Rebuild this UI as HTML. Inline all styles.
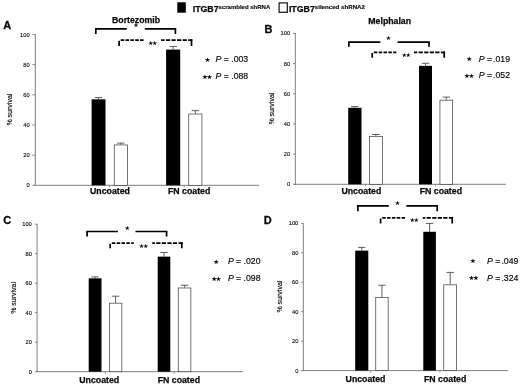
<!DOCTYPE html>
<html lang="en">
<head>
<meta charset="utf-8">
<title>Figure</title>
<style>
html,body{margin:0;padding:0;background:#fff;}
body{width:520px;height:385px;overflow:hidden;}
svg{display:block;font-family:'Liberation Sans',sans-serif;}
</style>
</head>
<body>
<svg width="520" height="385" viewBox="0 0 520 385">
<rect width="520" height="385" fill="#fff"/>
<g style="filter:blur(0.3px)">
<g>
<line x1="35.3" y1="34.1" x2="35.3" y2="185.8" stroke="#707070" stroke-width="0.9"/>
<line x1="34.8" y1="185.3" x2="259.2" y2="185.3" stroke="#707070" stroke-width="0.9"/>
<line x1="32.3" y1="185.30" x2="35.3" y2="185.30" stroke="#707070" stroke-width="0.8"/>
<text x="29.599999999999998" y="187.35" font-size="5.7" text-anchor="end" fill="#0a0a0a" stroke="#0a0a0a" stroke-width="0.12">0</text>
<line x1="32.3" y1="155.14" x2="35.3" y2="155.14" stroke="#707070" stroke-width="0.8"/>
<text x="29.599999999999998" y="157.19" font-size="5.7" text-anchor="end" fill="#0a0a0a" stroke="#0a0a0a" stroke-width="0.12">20</text>
<line x1="32.3" y1="124.98" x2="35.3" y2="124.98" stroke="#707070" stroke-width="0.8"/>
<text x="29.599999999999998" y="127.03" font-size="5.7" text-anchor="end" fill="#0a0a0a" stroke="#0a0a0a" stroke-width="0.12">40</text>
<line x1="32.3" y1="94.82" x2="35.3" y2="94.82" stroke="#707070" stroke-width="0.8"/>
<text x="29.599999999999998" y="96.87" font-size="5.7" text-anchor="end" fill="#0a0a0a" stroke="#0a0a0a" stroke-width="0.12">60</text>
<line x1="32.3" y1="64.66" x2="35.3" y2="64.66" stroke="#707070" stroke-width="0.8"/>
<text x="29.599999999999998" y="66.71" font-size="5.7" text-anchor="end" fill="#0a0a0a" stroke="#0a0a0a" stroke-width="0.12">80</text>
<line x1="32.3" y1="34.50" x2="35.3" y2="34.50" stroke="#707070" stroke-width="0.8"/>
<text x="29.599999999999998" y="36.55" font-size="5.7" text-anchor="end" fill="#0a0a0a" stroke="#0a0a0a" stroke-width="0.12">100</text>
<line x1="109.5" y1="185.3" x2="109.5" y2="187.3" stroke="#707070" stroke-width="0.8"/>
<line x1="184.2" y1="185.3" x2="184.2" y2="187.3" stroke="#707070" stroke-width="0.8"/>
<line x1="98.55" y1="99.34" x2="98.55" y2="97.53" stroke="#444" stroke-width="0.85"/>
<line x1="94.85" y1="97.53" x2="102.25" y2="97.53" stroke="#444" stroke-width="0.85"/>
<rect x="91.60" y="99.34" width="13.90" height="85.96" fill="#000"/>
<line x1="120.80" y1="144.58" x2="120.80" y2="143.08" stroke="#444" stroke-width="0.85"/>
<line x1="117.10" y1="143.08" x2="124.50" y2="143.08" stroke="#444" stroke-width="0.85"/>
<rect x="114.25" y="144.93" width="13.10" height="40.37" fill="#fff" stroke="#3a3a3a" stroke-width="0.7"/>
<line x1="173.15" y1="49.58" x2="173.15" y2="46.41" stroke="#444" stroke-width="0.85"/>
<line x1="169.45" y1="46.41" x2="176.85" y2="46.41" stroke="#444" stroke-width="0.85"/>
<rect x="166.10" y="49.58" width="14.10" height="135.72" fill="#000"/>
<line x1="195.35" y1="113.67" x2="195.35" y2="110.65" stroke="#444" stroke-width="0.85"/>
<line x1="191.65" y1="110.65" x2="199.05" y2="110.65" stroke="#444" stroke-width="0.85"/>
<rect x="188.75" y="114.02" width="13.20" height="71.28" fill="#fff" stroke="#3a3a3a" stroke-width="0.7"/>
<text transform="translate(11.8,109.6) rotate(-90)" font-size="7.0" text-anchor="middle" fill="#0a0a0a" stroke="#0a0a0a" stroke-width="0.15">% survival</text>
<text x="90" y="194.2" font-size="8.75" font-weight="bold" fill="#0a0a0a" stroke="#0a0a0a" stroke-width="0.25">Uncoated</text>
<text x="168" y="194.2" font-size="8.75" font-weight="bold" fill="#0a0a0a" stroke="#0a0a0a" stroke-width="0.25">FN coated</text>
<text x="3.3" y="28.5" font-size="11" font-weight="bold" fill="#0a0a0a" stroke="#0a0a0a" stroke-width="0.3">A</text>
<text x="112" y="22.6" font-size="8.75" font-weight="bold" fill="#0a0a0a" stroke="#0a0a0a" stroke-width="0.25">Bortezomib</text>
<path d="M95.8 34V28.8H126.8M144.8 28.8H175.4V34" fill="none" stroke="#000" stroke-width="1.7"/>
<text x="136.00" y="27.32" font-family="'DejaVu Sans', sans-serif" font-size="5.6" text-anchor="middle" fill="#000" stroke="#000" stroke-width="0.15">★</text>
<path d="M119.1 40.800000000000004V46M191.5 39.35V46" fill="none" stroke="#000" stroke-width="1.7"/>
<path d="M120.70 40.2H124.20M125.55 40.2H129.05M130.40 40.2H133.90M135.25 40.2H138.75M140.10 40.2H143.60" fill="none" stroke="#000" stroke-width="1.7"/>
<path d="M188.15 40.2H192.35M182.60 40.2H186.80M177.05 40.2H181.25M171.50 40.2H175.70M165.95 40.2H170.15M161.10 40.2H164.60" fill="none" stroke="#000" stroke-width="1.7"/>
<text x="150.75" y="44.82" font-family="'DejaVu Sans', sans-serif" font-size="5.6" text-anchor="middle" fill="#000" stroke="#000" stroke-width="0.15">★</text>
<text x="154.85" y="44.82" font-family="'DejaVu Sans', sans-serif" font-size="5.6" text-anchor="middle" fill="#000" stroke="#000" stroke-width="0.15">★</text>
<text x="207.40" y="61.76" font-family="'DejaVu Sans', sans-serif" font-size="6.0" text-anchor="middle" fill="#000" stroke="#000" stroke-width="0.15">★</text>
<text x="215.6" y="62" font-size="8.7" fill="#0a0a0a" stroke="#0a0a0a" stroke-width="0.18"><tspan font-style="italic">P</tspan> = .003</text>
<text x="205.00" y="78.76" font-family="'DejaVu Sans', sans-serif" font-size="6.0" text-anchor="middle" fill="#000" stroke="#000" stroke-width="0.15">★</text>
<text x="209.40" y="78.76" font-family="'DejaVu Sans', sans-serif" font-size="6.0" text-anchor="middle" fill="#000" stroke="#000" stroke-width="0.15">★</text>
<text x="215.6" y="79" font-size="8.7" fill="#0a0a0a" stroke="#0a0a0a" stroke-width="0.18"><tspan font-style="italic">P</tspan> = .088</text>
</g>
<g>
<line x1="295.3" y1="33.0" x2="295.3" y2="184.8" stroke="#707070" stroke-width="0.9"/>
<line x1="294.8" y1="184.3" x2="505.9" y2="184.3" stroke="#707070" stroke-width="0.9"/>
<line x1="293.0" y1="184.30" x2="295.3" y2="184.30" stroke="#707070" stroke-width="0.8"/>
<text x="290.1" y="186.35" font-size="5.7" text-anchor="end" fill="#0a0a0a" stroke="#0a0a0a" stroke-width="0.12">0</text>
<line x1="293.0" y1="154.12" x2="295.3" y2="154.12" stroke="#707070" stroke-width="0.8"/>
<text x="290.1" y="156.17" font-size="5.7" text-anchor="end" fill="#0a0a0a" stroke="#0a0a0a" stroke-width="0.12">20</text>
<line x1="293.0" y1="123.94" x2="295.3" y2="123.94" stroke="#707070" stroke-width="0.8"/>
<text x="290.1" y="125.99" font-size="5.7" text-anchor="end" fill="#0a0a0a" stroke="#0a0a0a" stroke-width="0.12">40</text>
<line x1="293.0" y1="93.76" x2="295.3" y2="93.76" stroke="#707070" stroke-width="0.8"/>
<text x="290.1" y="95.81" font-size="5.7" text-anchor="end" fill="#0a0a0a" stroke="#0a0a0a" stroke-width="0.12">60</text>
<line x1="293.0" y1="63.58" x2="295.3" y2="63.58" stroke="#707070" stroke-width="0.8"/>
<text x="290.1" y="65.63" font-size="5.7" text-anchor="end" fill="#0a0a0a" stroke="#0a0a0a" stroke-width="0.12">80</text>
<line x1="293.0" y1="33.40" x2="295.3" y2="33.40" stroke="#707070" stroke-width="0.8"/>
<text x="290.1" y="35.45" font-size="5.7" text-anchor="end" fill="#0a0a0a" stroke="#0a0a0a" stroke-width="0.12">100</text>
<line x1="365.3" y1="184.3" x2="365.3" y2="186.3" stroke="#707070" stroke-width="0.8"/>
<line x1="435.3" y1="184.3" x2="435.3" y2="186.3" stroke="#707070" stroke-width="0.8"/>
<line x1="354.85" y1="107.79" x2="354.85" y2="106.59" stroke="#444" stroke-width="0.85"/>
<line x1="351.15" y1="106.59" x2="358.55" y2="106.59" stroke="#444" stroke-width="0.85"/>
<rect x="348.20" y="107.79" width="13.30" height="76.51" fill="#000"/>
<line x1="375.85" y1="136.01" x2="375.85" y2="134.50" stroke="#444" stroke-width="0.85"/>
<line x1="372.15" y1="134.50" x2="379.55" y2="134.50" stroke="#444" stroke-width="0.85"/>
<rect x="369.35" y="136.36" width="13.00" height="47.94" fill="#fff" stroke="#3a3a3a" stroke-width="0.7"/>
<line x1="425.50" y1="65.84" x2="425.50" y2="63.28" stroke="#444" stroke-width="0.85"/>
<line x1="421.80" y1="63.28" x2="429.20" y2="63.28" stroke="#444" stroke-width="0.85"/>
<rect x="419.00" y="65.84" width="13.00" height="118.46" fill="#000"/>
<line x1="446.30" y1="99.80" x2="446.30" y2="97.08" stroke="#444" stroke-width="0.85"/>
<line x1="442.60" y1="97.08" x2="450.00" y2="97.08" stroke="#444" stroke-width="0.85"/>
<rect x="439.95" y="100.15" width="12.70" height="84.15" fill="#fff" stroke="#3a3a3a" stroke-width="0.7"/>
<text transform="translate(274,108.6) rotate(-90)" font-size="7.0" text-anchor="middle" fill="#0a0a0a" stroke="#0a0a0a" stroke-width="0.15">% survival</text>
<text x="341.4" y="194.4" font-size="8.75" font-weight="bold" fill="#0a0a0a" stroke="#0a0a0a" stroke-width="0.25">Uncoated</text>
<text x="419.7" y="194.4" font-size="8.75" font-weight="bold" fill="#0a0a0a" stroke="#0a0a0a" stroke-width="0.25">FN coated</text>
<text x="264.5" y="33.3" font-size="11" font-weight="bold" fill="#0a0a0a" stroke="#0a0a0a" stroke-width="0.3">B</text>
<text x="368.3" y="23.5" font-size="8.75" font-weight="bold" fill="#0a0a0a" stroke="#0a0a0a" stroke-width="0.25">Melphalan</text>
<path d="M348.9 46.8V42.2H380.4M397.6 42.2H429V46.8" fill="none" stroke="#000" stroke-width="1.7"/>
<text x="388.50" y="39.62" font-family="'DejaVu Sans', sans-serif" font-size="5.6" text-anchor="middle" fill="#000" stroke="#000" stroke-width="0.15">★</text>
<path d="M372.2 53.0V57.8M444.2 51.55V57.8" fill="none" stroke="#000" stroke-width="1.7"/>
<path d="M373.80 52.4H377.30M378.65 52.4H382.15M383.50 52.4H387.00M388.35 52.4H391.85M393.20 52.4H396.30" fill="none" stroke="#000" stroke-width="1.7"/>
<path d="M440.85 52.4H445.05M435.30 52.4H439.50M429.75 52.4H433.95M424.20 52.4H428.40M418.65 52.4H422.85M414.00 52.4H417.30" fill="none" stroke="#000" stroke-width="1.7"/>
<text x="404.25" y="57.02" font-family="'DejaVu Sans', sans-serif" font-size="5.6" text-anchor="middle" fill="#000" stroke="#000" stroke-width="0.15">★</text>
<text x="408.35" y="57.02" font-family="'DejaVu Sans', sans-serif" font-size="5.6" text-anchor="middle" fill="#000" stroke="#000" stroke-width="0.15">★</text>
<text x="469.20" y="60.96" font-family="'DejaVu Sans', sans-serif" font-size="6.0" text-anchor="middle" fill="#000" stroke="#000" stroke-width="0.15">★</text>
<text x="478.7" y="61.6" font-size="8.7" fill="#0a0a0a" stroke="#0a0a0a" stroke-width="0.18"><tspan font-style="italic">P</tspan> =<tspan dx="1.1">.</tspan>019</text>
<text x="467.00" y="77.56" font-family="'DejaVu Sans', sans-serif" font-size="6.0" text-anchor="middle" fill="#000" stroke="#000" stroke-width="0.15">★</text>
<text x="471.40" y="77.56" font-family="'DejaVu Sans', sans-serif" font-size="6.0" text-anchor="middle" fill="#000" stroke="#000" stroke-width="0.15">★</text>
<text x="478.7" y="78.0" font-size="8.7" fill="#0a0a0a" stroke="#0a0a0a" stroke-width="0.18"><tspan font-style="italic">P</tspan> =<tspan dx="1.1">.</tspan>052</text>
</g>
<g>
<line x1="37.1" y1="223.79999999999998" x2="37.1" y2="372.2" stroke="#707070" stroke-width="0.9"/>
<line x1="36.6" y1="371.7" x2="242.8" y2="371.7" stroke="#707070" stroke-width="0.9"/>
<line x1="34.800000000000004" y1="371.70" x2="37.1" y2="371.70" stroke="#707070" stroke-width="0.8"/>
<text x="31.8" y="373.75" font-size="5.7" text-anchor="end" fill="#0a0a0a" stroke="#0a0a0a" stroke-width="0.12">0</text>
<line x1="34.800000000000004" y1="342.20" x2="37.1" y2="342.20" stroke="#707070" stroke-width="0.8"/>
<text x="31.8" y="344.25" font-size="5.7" text-anchor="end" fill="#0a0a0a" stroke="#0a0a0a" stroke-width="0.12">20</text>
<line x1="34.800000000000004" y1="312.70" x2="37.1" y2="312.70" stroke="#707070" stroke-width="0.8"/>
<text x="31.8" y="314.75" font-size="5.7" text-anchor="end" fill="#0a0a0a" stroke="#0a0a0a" stroke-width="0.12">40</text>
<line x1="34.800000000000004" y1="283.20" x2="37.1" y2="283.20" stroke="#707070" stroke-width="0.8"/>
<text x="31.8" y="285.25" font-size="5.7" text-anchor="end" fill="#0a0a0a" stroke="#0a0a0a" stroke-width="0.12">60</text>
<line x1="34.800000000000004" y1="253.70" x2="37.1" y2="253.70" stroke="#707070" stroke-width="0.8"/>
<text x="31.8" y="255.75" font-size="5.7" text-anchor="end" fill="#0a0a0a" stroke="#0a0a0a" stroke-width="0.12">80</text>
<line x1="34.800000000000004" y1="224.20" x2="37.1" y2="224.20" stroke="#707070" stroke-width="0.8"/>
<text x="31.8" y="226.25" font-size="5.7" text-anchor="end" fill="#0a0a0a" stroke="#0a0a0a" stroke-width="0.12">100</text>
<line x1="105.3" y1="371.7" x2="105.3" y2="373.7" stroke="#707070" stroke-width="0.8"/>
<line x1="174.1" y1="371.7" x2="174.1" y2="373.7" stroke="#707070" stroke-width="0.8"/>
<line x1="95.10" y1="278.33" x2="95.10" y2="276.86" stroke="#444" stroke-width="0.85"/>
<line x1="91.40" y1="276.86" x2="98.80" y2="276.86" stroke="#444" stroke-width="0.85"/>
<rect x="88.70" y="278.33" width="12.80" height="93.37" fill="#000"/>
<line x1="115.60" y1="302.82" x2="115.60" y2="296.18" stroke="#444" stroke-width="0.85"/>
<line x1="111.90" y1="296.18" x2="119.30" y2="296.18" stroke="#444" stroke-width="0.85"/>
<rect x="109.35" y="303.17" width="12.50" height="68.53" fill="#fff" stroke="#3a3a3a" stroke-width="0.7"/>
<line x1="164.00" y1="256.65" x2="164.00" y2="252.52" stroke="#444" stroke-width="0.85"/>
<line x1="160.30" y1="252.52" x2="167.70" y2="252.52" stroke="#444" stroke-width="0.85"/>
<rect x="157.70" y="256.65" width="12.60" height="115.05" fill="#000"/>
<line x1="184.55" y1="287.62" x2="184.55" y2="285.26" stroke="#444" stroke-width="0.85"/>
<line x1="180.85" y1="285.26" x2="188.25" y2="285.26" stroke="#444" stroke-width="0.85"/>
<rect x="178.25" y="287.98" width="12.60" height="83.72" fill="#fff" stroke="#3a3a3a" stroke-width="0.7"/>
<text transform="translate(15.6,297.9) rotate(-90)" font-size="7.0" text-anchor="middle" fill="#0a0a0a" stroke="#0a0a0a" stroke-width="0.15">% survival</text>
<text x="79.3" y="383.2" font-size="8.75" font-weight="bold" fill="#0a0a0a" stroke="#0a0a0a" stroke-width="0.25">Uncoated</text>
<text x="157.7" y="383.2" font-size="8.75" font-weight="bold" fill="#0a0a0a" stroke="#0a0a0a" stroke-width="0.25">FN coated</text>
<text x="3.3" y="223.8" font-size="11" font-weight="bold" fill="#0a0a0a" stroke="#0a0a0a" stroke-width="0.3">C</text>
<path d="M87.1 236.5V231.5H117.9M135.5 231.5H166.6V236.5" fill="none" stroke="#000" stroke-width="1.7"/>
<text x="127.20" y="230.02" font-family="'DejaVu Sans', sans-serif" font-size="5.6" text-anchor="middle" fill="#000" stroke="#000" stroke-width="0.15">★</text>
<path d="M110.2 243.79999999999998V248.3M181.8 242.35V248.3" fill="none" stroke="#000" stroke-width="1.7"/>
<path d="M111.80 243.2H115.30M116.65 243.2H120.15M121.50 243.2H125.00M126.35 243.2H129.85M131.20 243.2H133.80" fill="none" stroke="#000" stroke-width="1.7"/>
<path d="M178.45 243.2H182.65M172.90 243.2H177.10M167.35 243.2H171.55M161.80 243.2H166.00M156.25 243.2H160.45M152.20 243.2H154.90" fill="none" stroke="#000" stroke-width="1.7"/>
<text x="141.55" y="247.62" font-family="'DejaVu Sans', sans-serif" font-size="5.6" text-anchor="middle" fill="#000" stroke="#000" stroke-width="0.15">★</text>
<text x="145.65" y="247.62" font-family="'DejaVu Sans', sans-serif" font-size="5.6" text-anchor="middle" fill="#000" stroke="#000" stroke-width="0.15">★</text>
<text x="216.30" y="263.86" font-family="'DejaVu Sans', sans-serif" font-size="6.0" text-anchor="middle" fill="#000" stroke="#000" stroke-width="0.15">★</text>
<text x="227.9" y="264" font-size="8.7" fill="#0a0a0a" stroke="#0a0a0a" stroke-width="0.18"><tspan font-style="italic">P</tspan> = .020</text>
<text x="214.10" y="280.76" font-family="'DejaVu Sans', sans-serif" font-size="6.0" text-anchor="middle" fill="#000" stroke="#000" stroke-width="0.15">★</text>
<text x="218.50" y="280.76" font-family="'DejaVu Sans', sans-serif" font-size="6.0" text-anchor="middle" fill="#000" stroke="#000" stroke-width="0.15">★</text>
<text x="227.9" y="280.7" font-size="8.7" fill="#0a0a0a" stroke="#0a0a0a" stroke-width="0.18"><tspan font-style="italic">P</tspan> = .098</text>
</g>
<g>
<line x1="303.3" y1="223.0" x2="303.3" y2="371.1" stroke="#707070" stroke-width="0.9"/>
<line x1="302.8" y1="370.6" x2="507.9" y2="370.6" stroke="#707070" stroke-width="0.9"/>
<line x1="301.1" y1="370.60" x2="303.3" y2="370.60" stroke="#707070" stroke-width="0.8"/>
<text x="298.3" y="372.65" font-size="5.7" text-anchor="end" fill="#0a0a0a" stroke="#0a0a0a" stroke-width="0.12">0</text>
<line x1="301.1" y1="341.16" x2="303.3" y2="341.16" stroke="#707070" stroke-width="0.8"/>
<text x="298.3" y="343.21" font-size="5.7" text-anchor="end" fill="#0a0a0a" stroke="#0a0a0a" stroke-width="0.12">20</text>
<line x1="301.1" y1="311.72" x2="303.3" y2="311.72" stroke="#707070" stroke-width="0.8"/>
<text x="298.3" y="313.77" font-size="5.7" text-anchor="end" fill="#0a0a0a" stroke="#0a0a0a" stroke-width="0.12">40</text>
<line x1="301.1" y1="282.28" x2="303.3" y2="282.28" stroke="#707070" stroke-width="0.8"/>
<text x="298.3" y="284.33" font-size="5.7" text-anchor="end" fill="#0a0a0a" stroke="#0a0a0a" stroke-width="0.12">60</text>
<line x1="301.1" y1="252.84" x2="303.3" y2="252.84" stroke="#707070" stroke-width="0.8"/>
<text x="298.3" y="254.89" font-size="5.7" text-anchor="end" fill="#0a0a0a" stroke="#0a0a0a" stroke-width="0.12">80</text>
<line x1="301.1" y1="223.40" x2="303.3" y2="223.40" stroke="#707070" stroke-width="0.8"/>
<text x="298.3" y="225.45" font-size="5.7" text-anchor="end" fill="#0a0a0a" stroke="#0a0a0a" stroke-width="0.12">100</text>
<line x1="370.8" y1="370.6" x2="370.8" y2="372.6" stroke="#707070" stroke-width="0.8"/>
<line x1="439.9" y1="370.6" x2="439.9" y2="372.6" stroke="#707070" stroke-width="0.8"/>
<line x1="361.75" y1="250.63" x2="361.75" y2="247.39" stroke="#444" stroke-width="0.85"/>
<line x1="358.05" y1="247.39" x2="365.45" y2="247.39" stroke="#444" stroke-width="0.85"/>
<rect x="355.20" y="250.63" width="13.10" height="119.97" fill="#000"/>
<line x1="381.95" y1="297.00" x2="381.95" y2="285.22" stroke="#444" stroke-width="0.85"/>
<line x1="378.25" y1="285.22" x2="385.65" y2="285.22" stroke="#444" stroke-width="0.85"/>
<rect x="375.75" y="297.35" width="12.40" height="73.25" fill="#fff" stroke="#3a3a3a" stroke-width="0.7"/>
<line x1="429.60" y1="231.79" x2="429.60" y2="223.40" stroke="#444" stroke-width="0.85"/>
<line x1="425.90" y1="223.40" x2="433.30" y2="223.40" stroke="#444" stroke-width="0.85"/>
<rect x="423.30" y="231.79" width="12.60" height="138.81" fill="#000"/>
<line x1="450.20" y1="284.49" x2="450.20" y2="272.42" stroke="#444" stroke-width="0.85"/>
<line x1="446.50" y1="272.42" x2="453.90" y2="272.42" stroke="#444" stroke-width="0.85"/>
<rect x="443.75" y="284.84" width="12.90" height="85.76" fill="#fff" stroke="#3a3a3a" stroke-width="0.7"/>
<text transform="translate(282.3,296.6) rotate(-90)" font-size="7.0" text-anchor="middle" fill="#0a0a0a" stroke="#0a0a0a" stroke-width="0.15">% survival</text>
<text x="345.6" y="381.6" font-size="8.75" font-weight="bold" fill="#0a0a0a" stroke="#0a0a0a" stroke-width="0.25">Uncoated</text>
<text x="424" y="381.6" font-size="8.75" font-weight="bold" fill="#0a0a0a" stroke="#0a0a0a" stroke-width="0.25">FN coated</text>
<text x="263.7" y="223.5" font-size="11" font-weight="bold" fill="#0a0a0a" stroke="#0a0a0a" stroke-width="0.3">D</text>
<path d="M357.9 211.2V205.8H388.8M406.4 205.8H437.2V211.2" fill="none" stroke="#000" stroke-width="1.7"/>
<text x="397.50" y="205.02" font-family="'DejaVu Sans', sans-serif" font-size="5.6" text-anchor="middle" fill="#000" stroke="#000" stroke-width="0.15">★</text>
<path d="M380.6 218.4V223.5M452.2 216.95000000000002V223.5" fill="none" stroke="#000" stroke-width="1.7"/>
<path d="M382.20 217.8H385.70M387.05 217.8H390.55M391.90 217.8H395.40M396.75 217.8H400.25M401.60 217.8H405.10" fill="none" stroke="#000" stroke-width="1.7"/>
<path d="M448.85 217.8H453.05M443.30 217.8H447.50M437.75 217.8H441.95M432.20 217.8H436.40M426.65 217.8H430.85M422.70 217.8H425.30" fill="none" stroke="#000" stroke-width="1.7"/>
<text x="412.15" y="222.32" font-family="'DejaVu Sans', sans-serif" font-size="5.6" text-anchor="middle" fill="#000" stroke="#000" stroke-width="0.15">★</text>
<text x="416.25" y="222.32" font-family="'DejaVu Sans', sans-serif" font-size="5.6" text-anchor="middle" fill="#000" stroke="#000" stroke-width="0.15">★</text>
<text x="473.00" y="262.86" font-family="'DejaVu Sans', sans-serif" font-size="6.0" text-anchor="middle" fill="#000" stroke="#000" stroke-width="0.15">★</text>
<text x="487" y="264" font-size="8.7" fill="#0a0a0a" stroke="#0a0a0a" stroke-width="0.18"><tspan font-style="italic">P</tspan> =<tspan dx="1.1">.</tspan>049</text>
<text x="471.50" y="280.16" font-family="'DejaVu Sans', sans-serif" font-size="6.0" text-anchor="middle" fill="#000" stroke="#000" stroke-width="0.15">★</text>
<text x="475.90" y="280.16" font-family="'DejaVu Sans', sans-serif" font-size="6.0" text-anchor="middle" fill="#000" stroke="#000" stroke-width="0.15">★</text>
<text x="487" y="280.7" font-size="8.7" fill="#0a0a0a" stroke="#0a0a0a" stroke-width="0.18"><tspan font-style="italic">P</tspan> =<tspan dx="1.1">.</tspan>324</text>
</g>
<rect x="177.3" y="2.3" width="8.5" height="10.4" fill="#000"/>
<text x="192.7" y="12.0" font-size="8.8" font-weight="bold" fill="#0a0a0a" stroke="#0a0a0a" stroke-width="0.25">ITGB7<tspan font-size="6.0" dy="-3.0" stroke-width="0.15">scrambled shRNA</tspan></text>
<rect x="279.1" y="2.9" width="8.2" height="9.4" fill="#fff" stroke="#111" stroke-width="1.2"/>
<text x="288.9" y="12.2" font-size="8.8" font-weight="bold" fill="#0a0a0a" stroke="#0a0a0a" stroke-width="0.25">ITGB7<tspan font-size="6.15" dy="-3.5" stroke-width="0.15">silenced shRNA2</tspan></text>
</g>
</svg>
</body>
</html>
